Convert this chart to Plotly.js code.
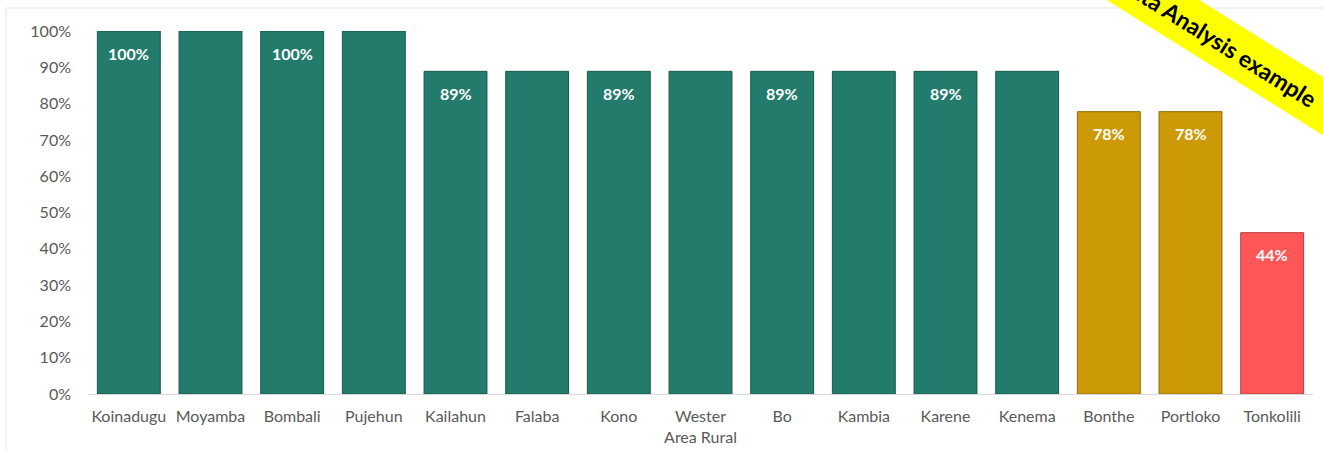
<!DOCTYPE html>
<html>
<head>
<meta charset="utf-8">
<script src="https://cdn.plot.ly/plotly-3.0.1.min.js"></script>
<style>html,body{margin:0;padding:0;background:#fff;}#chart{width:1323px;height:450px;}</style>
</head>
<body>
<div id="chart"></div>
<script>
const categories = ['Koinadugu','Moyamba','Bombali','Pujehun','Kailahun','Falaba','Kono','Wester<br>Area Rural','Bo','Kambia','Karene','Kenema','Bonthe','Portloko','Tonkolili'];
const values = [1, 1, 1, 1, 8/9, 8/9, 8/9, 8/9, 8/9, 8/9, 8/9, 8/9, 7/9, 7/9, 4/9];
const labels = ['100%','','100%','','89%','','89%','','89%','','89%','','78%','78%','44%'];
const yTickVals = [0,0.1,0.2,0.3,0.4,0.5,0.6,0.7,0.8,0.9,1.0];
const bannerText = 'Data Analysis example';

const GREEN = '#237B6C', GOLD = '#CC9A06', RED = '#FF5757';
const colors = values.map(v => v >= 0.85 ? GREEN : (v >= 0.7 ? GOLD : RED));
const edge = values.map(v => v >= 0.85 ? '#17584c' : (v >= 0.7 ? '#8f6c04' : '#b83c3c'));

const trace = {
  type: 'bar',
  x: categories,
  y: values,
  marker: {color: colors, line: {color: edge, width: 1}},
  hoverinfo: 'none'
};

const L = 88, R = 10, T = 31, B = 56, W = 1323, H = 450;
const pw = W - L - R, ph = H - T - B;
const px = x => (x - L) / pw;
const py = y => (H - B - y) / ph;

const annotations = labels.map((t, i) => ({
  x: categories[i], y: values[i], xref: 'x', yref: 'y',
  text: t ? '<b>' + t + '</b>' : '', showarrow: false,
  yshift: -22, yanchor: 'middle', xanchor: 'center',
  font: {family: 'Lato, sans-serif', size: 16, color: '#ffffff'}
})).filter(a => a.text);

annotations.push({
  x: px(1217), y: py(40), xref: 'paper', yref: 'paper',
  text: '<b>' + bannerText + '</b>', showarrow: false,
  textangle: 32, bgcolor: '#FFFF00', borderpad: 10, width: 380,
  xanchor: 'center', yanchor: 'middle',
  font: {family: 'Lato, sans-serif', size: 23, color: '#000000'}
});

const layout = {
  width: W, height: H,
  margin: {l: L, r: R, t: T, b: B},
  paper_bgcolor: '#ffffff', plot_bgcolor: '#ffffff',
  showlegend: false,
  bargap: 0.23,
  font: {family: 'Lato, sans-serif', size: 16, color: '#595959'},
  xaxis: {
    type: 'category', showgrid: false, zeroline: false,
    showline: true, linecolor: '#d9d9d9', linewidth: 1,
    ticks: '', ticklabelstandoff: 8,
    tickfont: {family: 'Lato, sans-serif', size: 16, color: '#595959'}
  },
  yaxis: {
    range: [0, 1], tickvals: yTickVals, tickformat: '.0%',
    showgrid: false, zeroline: false, showline: false,
    ticks: '', ticklabelstandoff: 16,
    tickfont: {family: 'Lato, sans-serif', size: 16, color: '#595959'}
  },
  shapes: [{
    type: 'rect', xref: 'paper', yref: 'paper',
    x0: px(6), x1: px(1340), y0: py(470), y1: py(8),
    line: {color: '#e3e3e3', width: 1}, fillcolor: 'rgba(0,0,0,0)', layer: 'below'
  }],
  annotations: annotations
};

Plotly.newPlot('chart', [trace], layout, {displayModeBar: false, staticPlot: true});
</script>
</body>
</html>
